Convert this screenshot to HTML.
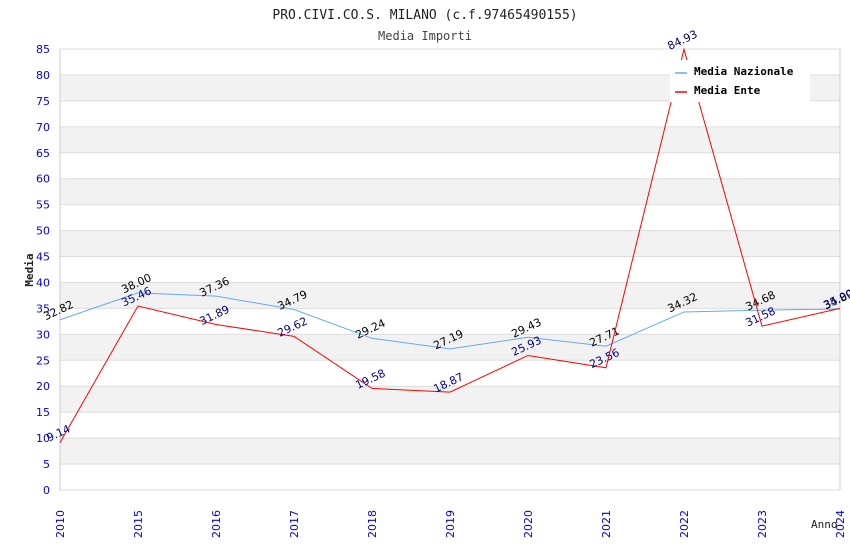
<!DOCTYPE html>
<html><head><meta charset="utf-8"><style>
body{margin:0;background:#fff;width:850px;height:550px;overflow:hidden}
svg text{font-family:"DejaVu Sans Mono","Liberation Mono",monospace}
svg text.s{font-family:"DejaVu Sans","Liberation Sans",sans-serif}
</style></head><body>
<svg id="c" width="850" height="550" xmlns="http://www.w3.org/2000/svg">
<text x="425" y="19" text-anchor="middle" font-size="13" fill="#222">PRO.CIVI.CO.S. MILANO (c.f.97465490155)</text>
<text x="425" y="40" text-anchor="middle" font-size="12" fill="#444">Media Importi</text>
<g id="grid"></g><g id="axes"></g><g id="series"></g>
<text x="33" y="270" transform="rotate(-90 33 270)" text-anchor="middle" font-size="11" font-weight="bold" fill="#222">Media</text>
<text x="811" y="528" font-size="11" fill="#222">Anno</text>
<g>
<rect x="670" y="60" width="140" height="42" fill="#fff"/>
<g><line x1="675" y1="73" x2="687" y2="73" stroke="#66aaee" stroke-width="1.5"/><text x="694" y="75" font-size="11" font-weight="bold" fill="#000">Media Nazionale</text></g>
<g><line x1="675" y1="92" x2="687" y2="92" stroke="#ff0000" stroke-width="1.5"/><text x="694" y="94" font-size="11" font-weight="bold" fill="#000">Media Ente</text></g>
</g>
</svg>
<script>
const categories=["2010","2015","2016","2017","2018","2019","2020","2021","2022","2023","2024"];
const nazionale=[32.82,38.00,37.36,34.79,29.24,27.19,29.43,27.71,34.32,34.68,34.89];
const ente=[9.14,35.46,31.89,29.62,19.58,18.87,25.93,23.56,84.93,31.58,35.00];
const yTicks=[0,5,10,15,20,25,30,35,40,45,50,55,60,65,70,75,80,85];
const NS="http://www.w3.org/2000/svg";
const X0=60,X1=840,Y0=490,Y1=49,YMAX=85;
const xs=i=>X0+i*(X1-X0)/(categories.length-1);
const ys=v=>Y0-v/YMAX*(Y0-Y1);
function mk(t,a,p){const e=document.createElementNS(NS,t);for(const k in a)e.setAttribute(k,a[k]);p.appendChild(e);return e;}
const grid=document.getElementById('grid'),axes=document.getElementById('axes'),ser=document.getElementById('series');
for(let i=0;i<yTicks.length-1;i++){const lo=yTicks[i],hi=yTicks[i+1];
 if(lo%10===5){const r=mk('rect',{x:X0,y:ys(hi),width:X1-X0,height:ys(lo)-ys(hi),fill:'#f2f2f2'},grid);
 
 }}
yTicks.forEach(v=>{const l=mk('line',{x1:X0,x2:X1,y1:ys(v),y2:ys(v),stroke:'#dddddd'},grid);
 
 
 const t=mk('text',{class:'s',x:50,y:ys(v)+4,'text-anchor':'end','font-size':11,fill:'#0000ee'},axes);t.textContent=v;
 
 });
mk('line',{x1:X0,x2:X0,y1:Y1,y2:Y0,stroke:'#ccc'},axes);mk('line',{x1:X1,x2:X1,y1:Y1,y2:Y0,stroke:'#ccc'},axes);
categories.forEach((c,i)=>{const x=xs(i),y=Y0+20;const t=mk('text',{class:'s',x:x+4,y:y,transform:`rotate(-90 ${x+4} ${y})`,'text-anchor':'end','font-size':11,fill:'#0000ee'},axes);t.textContent=c;
 
 });
function series(vals,color,lc,name){
 const p=mk('polyline',{points:vals.map((v,i)=>xs(i)+','+ys(v)).join(' '),fill:'none',stroke:color,'stroke-width':1},ser);
 
 
 vals.forEach((v,i)=>{const x=xs(i),y=ys(v)-6;const t=mk('text',{class:'s',x:x,y:y,transform:`rotate(-25 ${x} ${y})`,'text-anchor':'middle','font-size':11,fill:lc},ser);t.textContent=v.toFixed(2);
 
 });}
series(nazionale,'#66aaee','#000','nazionale');
series(ente,'#ff0000','#000088','ente');
</script>
</body></html>
